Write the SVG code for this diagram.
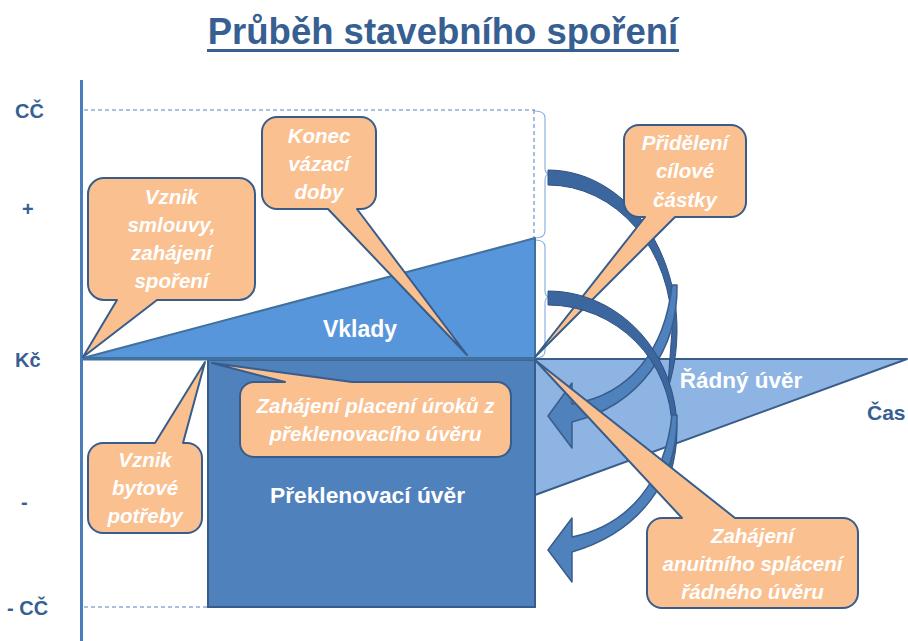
<svg xmlns="http://www.w3.org/2000/svg" width="908" height="641" viewBox="0 0 908 641">
<style>
.ax{font-family:"Liberation Sans",Arial,sans-serif;font-weight:bold;fill:#376092;font-size:20px}
.lbl{font-family:"Liberation Sans",Arial,sans-serif;font-weight:bold;fill:#ffffff;text-anchor:middle}
.co{fill:#fac090;stroke:#385d8a;stroke-width:2;stroke-linejoin:round}
.ct{font-family:"Liberation Sans",Arial,sans-serif;font-weight:bold;font-style:italic;fill:#ffffff;font-size:20.5px;text-anchor:middle}
.dash{stroke:#4f81bd;stroke-width:1;stroke-dasharray:4 3;fill:none}
.brace{stroke:#8db3e2;stroke-width:1.2;fill:none}
.back{fill:#3c679e;stroke:#2f5182;stroke-width:1}
.front{fill:#4f81bd;stroke:#385d8a;stroke-width:1.5;stroke-linejoin:round}
</style>
<rect width="908" height="641" fill="#ffffff"/>

<g id="title">
<text x="443" y="44" font-family="'Liberation Sans',Arial,sans-serif" font-weight="bold" font-size="36.5" fill="#376092" text-anchor="middle">Průběh stavebního spoření</text>
<rect x="207" y="49" width="472" height="3" fill="#376092"/>
</g>

<g id="guides">
<line class="dash" x1="84" y1="110" x2="535" y2="110"/>
<line class="dash" x1="534" y1="110" x2="534" y2="238"/>
<line class="dash" x1="84" y1="607" x2="208" y2="607"/>
<path class="brace" d="M535,111 Q545,111 545,118 V168 Q545,174 550,174 Q545,174 545,180 V231 Q545,238 535,238"/>
<path class="brace" d="M535,240 Q545,240 545,247 V291 Q545,297 550,297 Q545,297 545,303 V351 Q545,358 535,358"/>
</g>

<g id="vklady">
<polygon points="83,358 535,238 535,358" fill="#5896dc" stroke="#41719c" stroke-width="2" stroke-linejoin="round"/>
<text class="lbl" x="360" y="337" font-size="23">Vklady</text>
</g>

<g id="preklenovaci">
<rect x="208" y="360" width="327" height="247" fill="#4f81bd" stroke="#385d8a" stroke-width="2"/>
<text class="lbl" x="367.5" y="503" font-size="22.8">Překlenovací úvěr</text>
</g>

<g id="radny">
<polygon points="535,359 907,359 535,495" fill="#8eb4e3" stroke="#385d8a" stroke-width="2" stroke-linejoin="round"/>
<text class="lbl" x="741" y="388" font-size="22.5">Řádný úvěr</text>
</g>

<g id="axes">
<line x1="81.5" y1="80" x2="81.5" y2="641" stroke="#4a7ebb" stroke-width="3"/>
<line x1="83" y1="359" x2="535" y2="359" stroke="#41719c" stroke-width="3"/>
<text class="ax" x="15" y="118">CČ</text>
<text class="ax" x="22" y="216">+</text>
<text class="ax" x="15" y="367">Kč</text>
<text class="ax" x="21" y="509">-</text>
<text class="ax" x="7" y="615">- CČ</text>
<text class="ax" x="867" y="420" style="font-size:21px">Čas</text>
</g>

<g id="callout-vznik-smlouvy">
<path class="co" d="M104,178 H239 A16,16 0 0 1 255,194 V284 A16,16 0 0 1 239,300 H157 L83,357 L117,300 H104 A16,16 0 0 1 88,284 V194 A16,16 0 0 1 104,178 Z"/>
<text class="ct" x="171.5" y="204">Vznik</text>
<text class="ct" x="171.5" y="232">smlouvy,</text>
<text class="ct" x="171.5" y="260">zahájení</text>
<text class="ct" x="171.5" y="288">spoření</text>
</g>

<g id="callout-konec">
<path class="co" d="M277,117 H361 A15,15 0 0 1 376,132 V194 A15,15 0 0 1 361,209 H357 L467,355 L328,209 H277 A15,15 0 0 1 262,194 V132 A15,15 0 0 1 277,117 Z"/>
<text class="ct" x="319" y="143">Konec</text>
<text class="ct" x="319" y="171">vázací</text>
<text class="ct" x="319" y="199">doby</text>
</g>

<g id="callout-vznik-potreby">
<path class="co" d="M103,443 H155 L205,362 L183,443 H187 A15,15 0 0 1 202,458 V518 A15,15 0 0 1 187,533 H103 A15,15 0 0 1 88,518 V458 A15,15 0 0 1 103,443 Z"/>
<text class="ct" x="145" y="467">Vznik</text>
<text class="ct" x="145" y="495">bytové</text>
<text class="ct" x="145" y="523">potřeby</text>
</g>

<g id="callout-uroky">
<path class="co" d="M254,382 H285 L212,363 L352,382 H497 A14,14 0 0 1 511,396 V443 A14,14 0 0 1 497,457 H254 A14,14 0 0 1 240,443 V396 A14,14 0 0 1 254,382 Z"/>
<text class="ct" x="375.5" y="413">Zahájení placení úroků z</text>
<text class="ct" x="375.5" y="441">překlenovacího úvěru</text>
</g>

<g id="connectors">
<g id="arrow1">
<path class="back" d="M548,170 A129,160 0 0 1 667.6,390 L672,330 A124,145 0 0 0 548,185 Z"/>
<path class="front" d="M677,285 C678,350 640,405 572,422 L572,448 L548,416 L572,383 L572,404 C630,395 665,350 672,285 Z"/>
</g>
</g>

<g id="callout-prideleni">
<path class="co" d="M639,125 H731 A15,15 0 0 1 746,140 V202 A15,15 0 0 1 731,217 H675 L535,357 L645,217 H639 A15,15 0 0 1 624,202 V140 A15,15 0 0 1 639,125 Z"/>
<text class="ct" x="685" y="150">Přidělení</text>
<text class="ct" x="685" y="178">cílové</text>
<text class="ct" x="685" y="207">částky</text>
</g>

<g id="arrow2">
<path class="back" d="M548,291 A129,139 0 0 1 667.6,482 L672,430 A124,125 0 0 0 548,305 Z"/>
<path class="front" d="M677,415 C678,480 640,532 572,552 L572,582 L548,550 L572,518 L572,537 C630,525 665,480 672,415 Z"/>
</g>

<g id="callout-anuitni">
<path class="co" d="M662,518 H682 L535,360 L735,518 H843 A15,15 0 0 1 858,533 V593 A15,15 0 0 1 843,608 H662 A15,15 0 0 1 647,593 V533 A15,15 0 0 1 662,518 Z"/>
<text class="ct" x="752.5" y="543">Zahájení</text>
<text class="ct" x="752.5" y="571">anuitního splácení</text>
<text class="ct" x="752.5" y="599">řádného úvěru</text>
</g>
</svg>
